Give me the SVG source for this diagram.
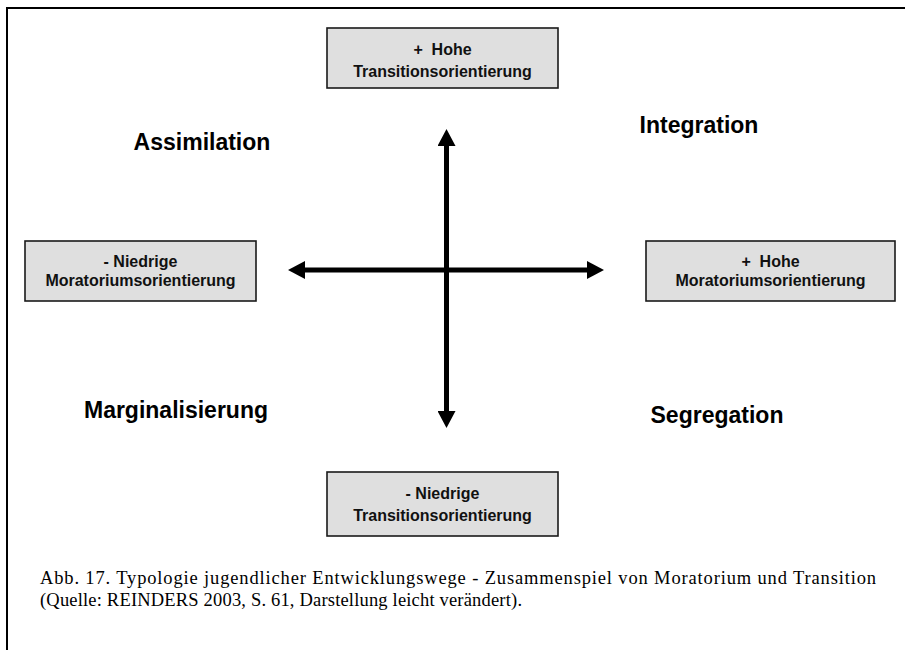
<svg xmlns="http://www.w3.org/2000/svg" width="905" height="650" viewBox="0 0 905 650">
<style>
.box{fill:#dfdfdf;stroke:#1a1a1a;stroke-width:1.6}
.bt{font-family:"Liberation Sans",Arial,sans-serif;font-weight:bold;font-size:16px;fill:#111;text-anchor:middle}
.q{font-family:"Liberation Sans",Arial,sans-serif;font-weight:bold;font-size:23px;fill:#000;text-anchor:middle}
.cap{font-family:"Liberation Serif","Times New Roman",serif;font-size:18.5px;fill:#000}
.ax{stroke:#000;stroke-width:5;fill:none}
</style>
<defs>
<marker id="ah" viewBox="0 0 17 18" markerWidth="17" markerHeight="18" refX="1" refY="9" markerUnits="userSpaceOnUse" orient="auto-start-reverse">
<path d="M0,0 L17,9 L0,18 z" fill="#000"/>
</marker>
</defs>
<rect width="905" height="650" fill="#fff"/>
<path d="M7,650 V8 H905" fill="none" stroke="#000" stroke-width="2"/>

<g id="connectors">
<line class="ax" x1="304" y1="270" x2="588" y2="270" marker-start="url(#ah)" marker-end="url(#ah)"/>
<line class="ax" x1="446.5" y1="145" x2="446.5" y2="412" marker-start="url(#ah)" marker-end="url(#ah)"/>
</g>

<g id="top">
<rect class="box" x="327" y="28" width="231" height="60"/>
<text class="bt" x="442.5" y="54.5" xml:space="preserve">+  Hohe</text>
<text class="bt" x="442.5" y="76.5">Transitionsorientierung</text>
</g>

<g id="left">
<rect class="box" x="25" y="241" width="231" height="60"/>
<text class="bt" x="140.5" y="266.5">- Niedrige</text>
<text class="bt" x="140.5" y="286">Moratoriumsorientierung</text>
</g>

<g id="right">
<rect class="box" x="646" y="241" width="249" height="60"/>
<text class="bt" x="770.5" y="266.5" xml:space="preserve">+  Hohe</text>
<text class="bt" x="770.5" y="286">Moratoriumsorientierung</text>
</g>

<g id="bottom">
<rect class="box" x="327" y="472" width="231" height="64"/>
<text class="bt" x="442.5" y="499">- Niedrige</text>
<text class="bt" x="442.5" y="521">Transitionsorientierung</text>
</g>

<g id="assimilation"><text class="q" x="202" y="150">Assimilation</text></g>
<g id="integration"><text class="q" x="699" y="133">Integration</text></g>
<g id="marginalisierung"><text class="q" x="176" y="418">Marginalisierung</text></g>
<g id="segregation"><text class="q" x="717" y="423">Segregation</text></g>

<g id="caption">
<text class="cap" x="40" y="584" textLength="836" lengthAdjust="spacing">Abb. 17. Typologie jugendlicher Entwicklungswege - Zusammenspiel von Moratorium und Transition</text>
<text class="cap" x="40" y="606" textLength="482" lengthAdjust="spacing">(Quelle: REINDERS 2003, S. 61, Darstellung leicht verändert).</text>
</g>
</svg>
